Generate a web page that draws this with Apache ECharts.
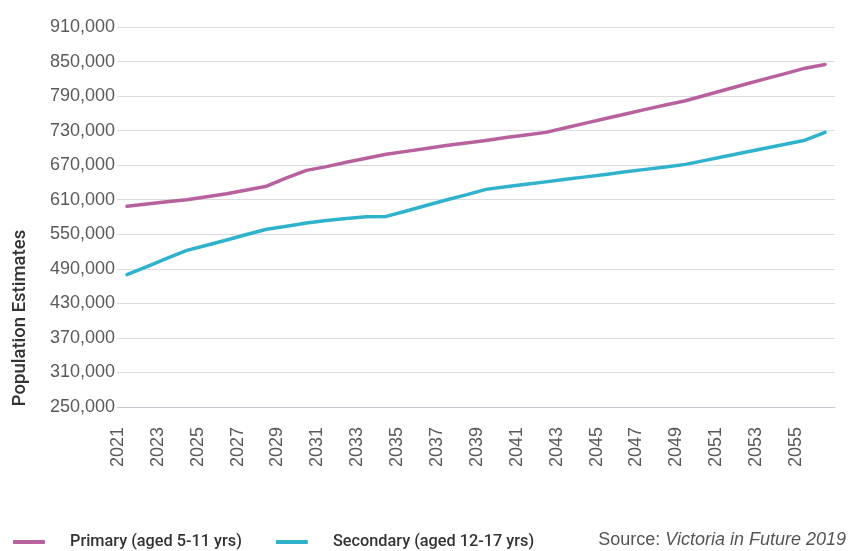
<!DOCTYPE html>
<html>
<head>
<meta charset="utf-8">
<title>School-age population estimates, Victoria</title>
<script src="https://cdn.jsdelivr.net/npm/echarts@6/dist/echarts.min.js"></script>
<style>
  html, body { margin: 0; padding: 0; background: #ffffff; }
  #chart { width: 850px; height: 551px; }
</style>
</head>
<body>
<div id="chart"></div>
<script>
// Projection years
const years = [
  '2021','2022','2023','2024','2025','2026','2027','2028','2029','2030',
  '2031','2032','2033','2034','2035','2036','2037','2038','2039','2040',
  '2041','2042','2043','2044','2045','2046','2047','2048','2049','2050',
  '2051','2052','2053','2054','2055','2056'
];

// Primary school age (5-11 yrs)
const primary = [
  598700, 602500, 606300, 610100, 615000, 620500, 627000, 633500, 648000, 661000,
  667500, 675000, 682000, 689000, 694000, 699000, 704000, 708500, 713000, 718000,
  722500, 727000, 735000, 743000, 751000, 759000, 767000, 774500, 782000, 791500,
  801000, 810500, 820000, 829000, 838500, 845000
];

// Secondary school age (12-17 yrs)
const secondary = [
  480000, 494000, 508000, 522000, 531000, 540000, 549500, 558700, 564000, 569500,
  574000, 577500, 580500, 581000, 590500, 600000, 609500, 618500, 628000, 632400,
  636700, 641000, 645400, 649700, 654000, 658400, 662700, 667000, 671400, 678400,
  685400, 692400, 699400, 706400, 713400, 727000
];

// Value axis ticks
const yTicks = [250000, 310000, 370000, 430000, 490000, 550000, 610000, 670000, 730000, 790000, 850000, 910000];

const seriesNames = ['Primary (aged 5-11 yrs)', 'Secondary (aged 12-17 yrs)'];
const PURPLE = '#b8629d';
const TEAL = '#2fb2cb';
const FONT = "'Liberation Sans', Arial, sans-serif";

const chart = echarts.init(document.getElementById('chart'), null, { renderer: 'canvas' });

const fmt = v => Math.round(v).toString().replace(/\B(?=(\d{3})+(?!\d))/g, ',');

chart.setOption({
  animation: false,
  backgroundColor: '#ffffff',
  grid: { left: 117, right: 15, top: 27, bottom: 144, containLabel: false },
  xAxis: {
    type: 'category',
    data: years,
    boundaryGap: true,
    axisLine: { show: true, lineStyle: { color: '#c9c9d1', width: 1 } },
    axisTick: { show: false },
    splitLine: { show: false },
    axisLabel: {
      interval: 1,
      rotate: 90,
      margin: 20,
      verticalAlign: 'bottom',
      color: '#595959',
      fontFamily: FONT,
      fontSize: 18
    }
  },
  yAxis: {
    type: 'value',
    min: yTicks[0],
    max: yTicks[yTicks.length - 1],
    axisLine: { show: false },
    axisTick: { show: false, customValues: yTicks },
    splitLine: { show: true, lineStyle: { color: '#dcdce0', width: 1 } },
    axisLabel: {
      customValues: yTicks,
      margin: 2,
      color: '#5a5a5a',
      fontFamily: FONT,
      fontSize: 18,
      formatter: v => fmt(v)
    }
  },
  legend: {
    left: 8,
    top: 529,
    icon: 'roundRect',
    itemWidth: 32,
    itemHeight: 4,
    itemGap: 34,
    data: seriesNames,
    textStyle: {
      color: '#333333',
      fontFamily: "Roboto, 'Liberation Sans', Arial, sans-serif",
      fontWeight: 500,
      fontSize: 16.3,
      padding: [0, 0, 0, 20]
    }
  },
  graphic: [
    {
      type: 'text',
      x: 20,
      y: 318,
      rotation: Math.PI / 2,
      style: {
        text: 'Population Estimates',
        fill: '#333333',
        font: "500 18.5px Roboto, 'Liberation Sans', sans-serif",
        align: 'center',
        verticalAlign: 'middle'
      }
    },
    {
      type: 'text',
      right: 4,
      top: 531,
      style: {
        text: '{a|Source: }{b|Victoria in Future 2019}',
        rich: {
          a: { fill: '#555555', fontFamily: FONT, fontSize: 18 },
          b: { fill: '#555555', fontFamily: FONT, fontSize: 18, fontStyle: 'italic' }
        }
      }
    }
  ],
  series: [
    {
      name: seriesNames[0],
      type: 'line',
      data: primary,
      showSymbol: false,
      color: PURPLE,
      lineStyle: { color: PURPLE, width: 3.5, cap: 'round', join: 'round' }
    },
    {
      name: seriesNames[1],
      type: 'line',
      data: secondary,
      showSymbol: false,
      color: TEAL,
      lineStyle: { color: TEAL, width: 3.5, cap: 'round', join: 'round' }
    }
  ]
});
</script>
</body>
</html>
